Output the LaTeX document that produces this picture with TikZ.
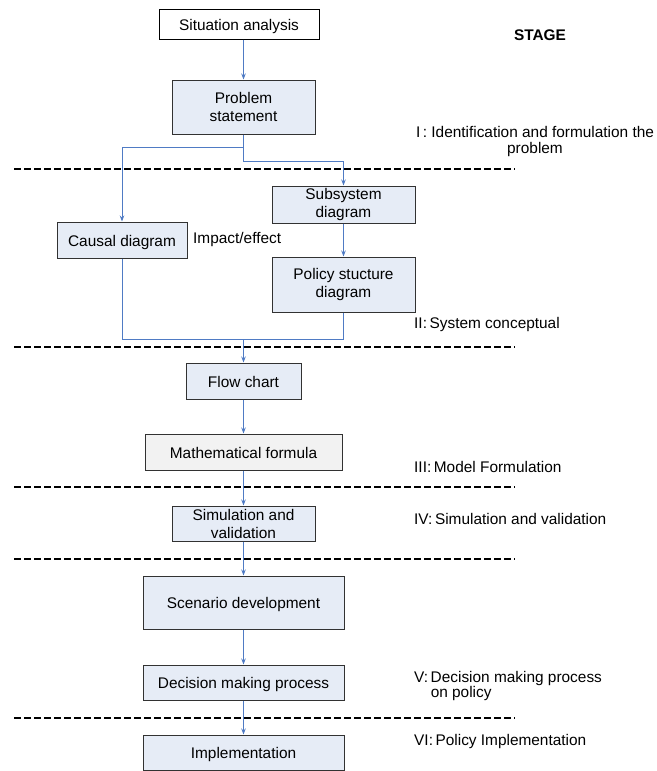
\documentclass[tikz,border=0pt]{standalone}
\usepackage{fontspec}
\setmainfont{Liberation Sans}
\usetikzlibrary{arrows.meta}
\definecolor{boxblue}{RGB}{230,236,246}
\definecolor{boxgray}{RGB}{242,242,242}
\definecolor{linkblue}{RGB}{79,123,196}
\definecolor{edgegray}{RGB}{50,50,50}
\tikzset{
  stepbox/.style={draw=edgegray, line width=1pt, fill=boxblue, inner sep=0pt,
    align=center, font=\fontsize{15.4}{18}\selectfont},
  oneline/.style={text height=12pt, text depth=0pt},
  startbox/.style={stepbox, oneline, fill=white, draw=black},
  graybox/.style={stepbox, oneline, fill=boxgray},
  link/.style={draw=linkblue, line width=0.9pt},
  arr/.style={link, -{Stealth[length=6pt,width=4.5pt]}},
  divider/.style={black, line width=1.4pt, dash pattern=on 7pt off 3pt},
  stagelabel/.style={inner sep=0pt, font=\fontsize{15.4}{15}\selectfont, align=left},
}
\begin{document}
\begin{tikzpicture}[x=1pt, y=-1pt]
\useasboundingbox (0,0) rectangle (656,771);

% process boxes
\node[startbox, minimum width=160pt, minimum height=30pt] (sit) at (239,24) {Situation analysis};
\node[stepbox, minimum width=143pt, minimum height=54pt] (prob) at (243.5,107) {Problem\\statement};
\node[stepbox, oneline, minimum width=130pt, minimum height=36pt] (causal) at (122,240) {Causal diagram};
\node[stepbox, minimum width=143pt, minimum height=37pt] (sub) at (343.5,204.5) {Subsystem\\diagram};
\node[stepbox, minimum width=143pt, minimum height=55pt] (pol) at (343.5,284.5) {Policy stucture\\diagram};
\node[stepbox, oneline, minimum width=115pt, minimum height=36pt] (flow) at (243.5,381) {Flow chart};
\node[graybox, minimum width=197pt, minimum height=36pt] (math) at (243.5,452) {Mathematical formula};
\node[stepbox, minimum width=143pt, minimum height=35pt] (sim) at (243.5,523.5) {Simulation and\\validation};
\node[stepbox, oneline, minimum width=201pt, minimum height=53pt] (scen) at (243.5,602.5) {Scenario development};
\node[stepbox, oneline, minimum width=201pt, minimum height=35pt] (dec) at (243.5,682.5) {Decision making process};
\node[stepbox, oneline, minimum width=201pt, minimum height=35pt] (impl) at (243.5,752.5) {Implementation};

\node[stagelabel, anchor=west] (impact) at (193,240) {Impact/effect};

% connectors
\coordinate (split) at (243.5,147);
\coordinate (merge) at (243.5,339);
\draw[arr] (prob.north |- sit.south) -- (prob.north);
\draw[arr] (prob.south) -- (split) -| (causal.north);
\draw[arr] (split) -- ++(0,14) -| (sub.north);
\draw[arr] (sub) -- (pol);
\draw[link] (causal.south) |- (merge);
\draw[link] (pol.south) |- (merge);
\draw[arr] (merge) -- (flow.north);
\draw[arr] (flow) -- (math);
\draw[arr] (math) -- (sim);
\draw[arr] (sim) -- (scen);
\draw[arr] (scen) -- (dec);
\draw[arr] (dec) -- (impl);

% stage dividers
\coordinate (dl1) at (14,169);  \coordinate (dr1) at (515,169);
\coordinate (dl2) at (14,347);  \coordinate (dr2) at (515,347);
\coordinate (dl3) at (14,487);  \coordinate (dr3) at (515,487);
\coordinate (dl4) at (14,559);  \coordinate (dr4) at (515,559);
\coordinate (dl5) at (14,718);  \coordinate (dr5) at (515,718);
\foreach \i in {1,...,5} \draw[divider] (dl\i) -- (dr\i);

% stage labels
\node[stagelabel, font=\bfseries\fontsize{15.4}{15}\selectfont] (stage) at (540,35) {STAGE};
\node[stagelabel, align=center, font=\fontsize{15.4}{16}\selectfont] (s1) at (535,142) {I\,: Identification and formulation the\\problem};
\node[stagelabel, anchor=west] (s2) at (414,325) {II:\,System conceptual};
\node[stagelabel, anchor=west] (s3) at (414,467) {III:\,Model Formulation};
\node[stagelabel, anchor=west] (s4) at (414,519) {IV:\,Simulation and validation};
\node[stagelabel, anchor=west, font=\fontsize{15.4}{15}\selectfont] (s5) at (414,686) {V:\,Decision making process\\\phantom{V:\,}on policy};
\node[stagelabel, anchor=west] (s6) at (414,742) {VI:\,Policy Implementation};
\end{tikzpicture}
\end{document}
